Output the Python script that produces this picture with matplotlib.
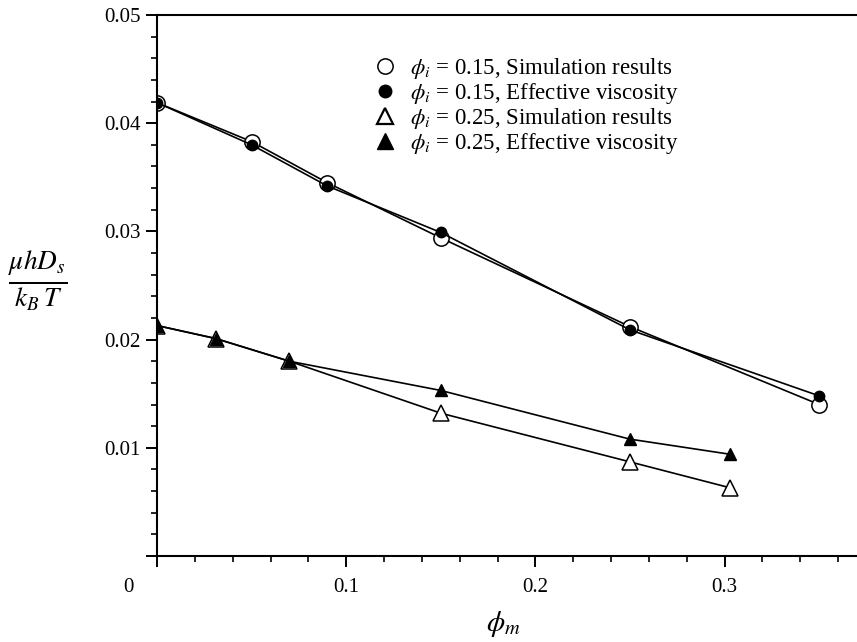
import matplotlib
matplotlib.use("Agg")
import matplotlib.pyplot as plt
from matplotlib.lines import Line2D
from matplotlib.ticker import MultipleLocator

plt.rcParams['font.family'] = ['Liberation Serif', 'DejaVu Serif']
plt.rcParams['mathtext.fontset'] = 'stix'

# phi_i = 0.15
x15 = [0.0, 0.05, 0.09, 0.15, 0.25, 0.35]
sim15 = [0.0419, 0.0383, 0.0345, 0.0294, 0.0212, 0.0140]
eff15 = [0.0419, 0.0380, 0.0342, 0.0299, 0.0209, 0.0148]

# phi_i = 0.25
x25 = [0.0, 0.031, 0.070, 0.15, 0.25, 0.303]
sim25 = [0.0213, 0.0201, 0.0180, 0.0132, 0.0087, 0.0063]
eff25 = [0.0213, 0.0201, 0.0180, 0.0153, 0.0108, 0.0094]

labels = [r'$\phi_i$ = 0.15, Simulation results',
          r'$\phi_i$ = 0.15, Effective viscosity',
          r'$\phi_i$ = 0.25, Simulation results',
          r'$\phi_i$ = 0.25, Effective viscosity']

fig = plt.figure(figsize=(8.57, 6.42), dpi=100)
ax = fig.add_axes([157/857, 86/642, 1 - 157/857, (556 - 15)/642])

lw = 1.2
ax.plot(x15, sim15, '-', color='black', lw=lw, marker='o', ms=11,
        mfc='white', mec='black', mew=1.1)
ax.plot(x15, eff15, '-', color='black', lw=lw, marker='o', ms=7.5,
        mfc='black', mec='black')
ax.plot(x25, sim25, '-', color='black', lw=lw, marker='^', ms=11,
        mfc='white', mec='black', mew=1.1)
ax.plot(x25, eff25, '-', color='black', lw=lw, marker='^', ms=8,
        mfc='black', mec='black')

ax.set_xlim(0, 0.37)
ax.set_ylim(0, 0.05)
ax.spines['right'].set_visible(False)
for s in ['left', 'bottom', 'top']:
    ax.spines[s].set_linewidth(1.5)

ax.xaxis.set_major_locator(MultipleLocator(0.1))
ax.xaxis.set_minor_locator(MultipleLocator(0.02))
ax.yaxis.set_major_locator(MultipleLocator(0.01))
ax.yaxis.set_minor_locator(MultipleLocator(0.002))
ax.tick_params(which='major', direction='out', length=8, width=1.4, labelsize=15)
ax.tick_params(which='minor', direction='out', length=4.5, width=1.2)
ax.tick_params(axis='x', pad=8)
ax.set_xticks([0, 0.1, 0.2, 0.3])
ax.set_xticklabels(['', '0.1', '0.2', '0.3'])
ax.set_yticks([0, 0.01, 0.02, 0.03, 0.04, 0.05])
ax.set_yticklabels(['', '0.01', '0.02', '0.03', '0.04', '0.05'])
fig.text(128/857, 1 - 588/642, '0', fontsize=15, ha='center', va='center')

# axis titles
fig.text(503/857, 1 - 624/642, r'$\phi_m$', fontsize=21, ha='center', va='center')
fig.text(38/857, 1 - 281/642, r'$\frac{\mu h D_s}{k_B\,T}$', fontsize=28,
         ha='center', va='center')

handles = [
    Line2D([], [], ls='none', marker='o', ms=11, mfc='white', mec='black', mew=1.1),
    Line2D([], [], ls='none', marker='o', ms=9, mfc='black', mec='black'),
    Line2D([], [], ls='none', marker='^', ms=12, mfc='white', mec='black', mew=1.6),
    Line2D([], [], ls='none', marker='^', ms=12, mfc='black', mec='black'),
]
ax.legend(handles, labels, loc='upper left', bbox_to_anchor=(0.309, 0.925),
          frameon=False, fontsize=16.5, handlelength=1.0, handletextpad=0.6,
          labelspacing=0.0, borderaxespad=0, borderpad=0)

fig.savefig('out.png', dpi=100)
